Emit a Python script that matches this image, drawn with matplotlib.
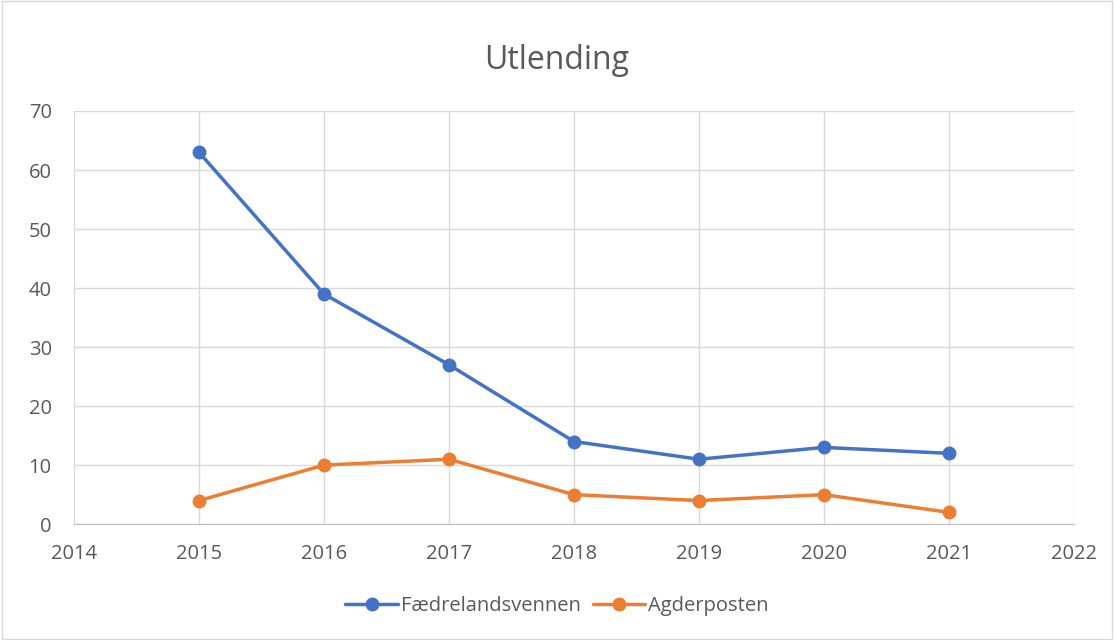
import matplotlib.pyplot as plt
from matplotlib.patches import Rectangle

years = [2015, 2016, 2017, 2018, 2019, 2020, 2021]
faedrelandsvennen = [63, 39, 27, 14, 11, 13, 12]
agderposten = [4, 10, 11, 5, 4, 5, 2]

BLUE = "#4472C4"
ORANGE = "#ED7D31"
GRID = "#D9D9D9"
TEXT = "#595959"

plt.rcParams["font.family"] = ["Open Sans", "DejaVu Sans"]

fig = plt.figure(figsize=(11.14, 6.40), dpi=100)
ax = fig.add_axes([0.0664, 0.181, 0.8976, 0.6456])

ax.plot(years, faedrelandsvennen, color=BLUE, lw=2.5, marker="o", ms=9,
        label="Fædrelandsvennen", solid_capstyle="round")
ax.plot(years, agderposten, color=ORANGE, lw=2.5, marker="o", ms=9,
        label="Agderposten", solid_capstyle="round")

ax.set_xlim(2014, 2022)
ax.set_ylim(0, 70)
ax.set_xticks(range(2014, 2023))
ax.set_yticks(range(0, 71, 10))
ax.grid(True, color=GRID, lw=1)
ax.set_axisbelow(True)
for s in ["top", "right", "left"]:
    ax.spines[s].set_visible(False)
ax.spines["bottom"].set_color("#BFBFBF")
ax.tick_params(length=0, colors=TEXT, labelsize=14.5)
ax.tick_params(axis="x", pad=14)
ax.tick_params(axis="y", pad=16)

fig.text(0.5, 0.905, "Utlending", ha="center", va="center", fontsize=23, color=TEXT)

fig.legend(loc="center", bbox_to_anchor=(0.5, 0.053), ncol=2, frameon=False,
           fontsize=14.5, labelcolor=TEXT, handlelength=2.6, handletextpad=0.15,
           columnspacing=0.6)

fig.patches.append(Rectangle((0.002, 0.002), 0.996, 0.996, transform=fig.transFigure,
                             fill=False, edgecolor="#D9D9D9", lw=1))

fig.savefig("out.png", dpi=100)
